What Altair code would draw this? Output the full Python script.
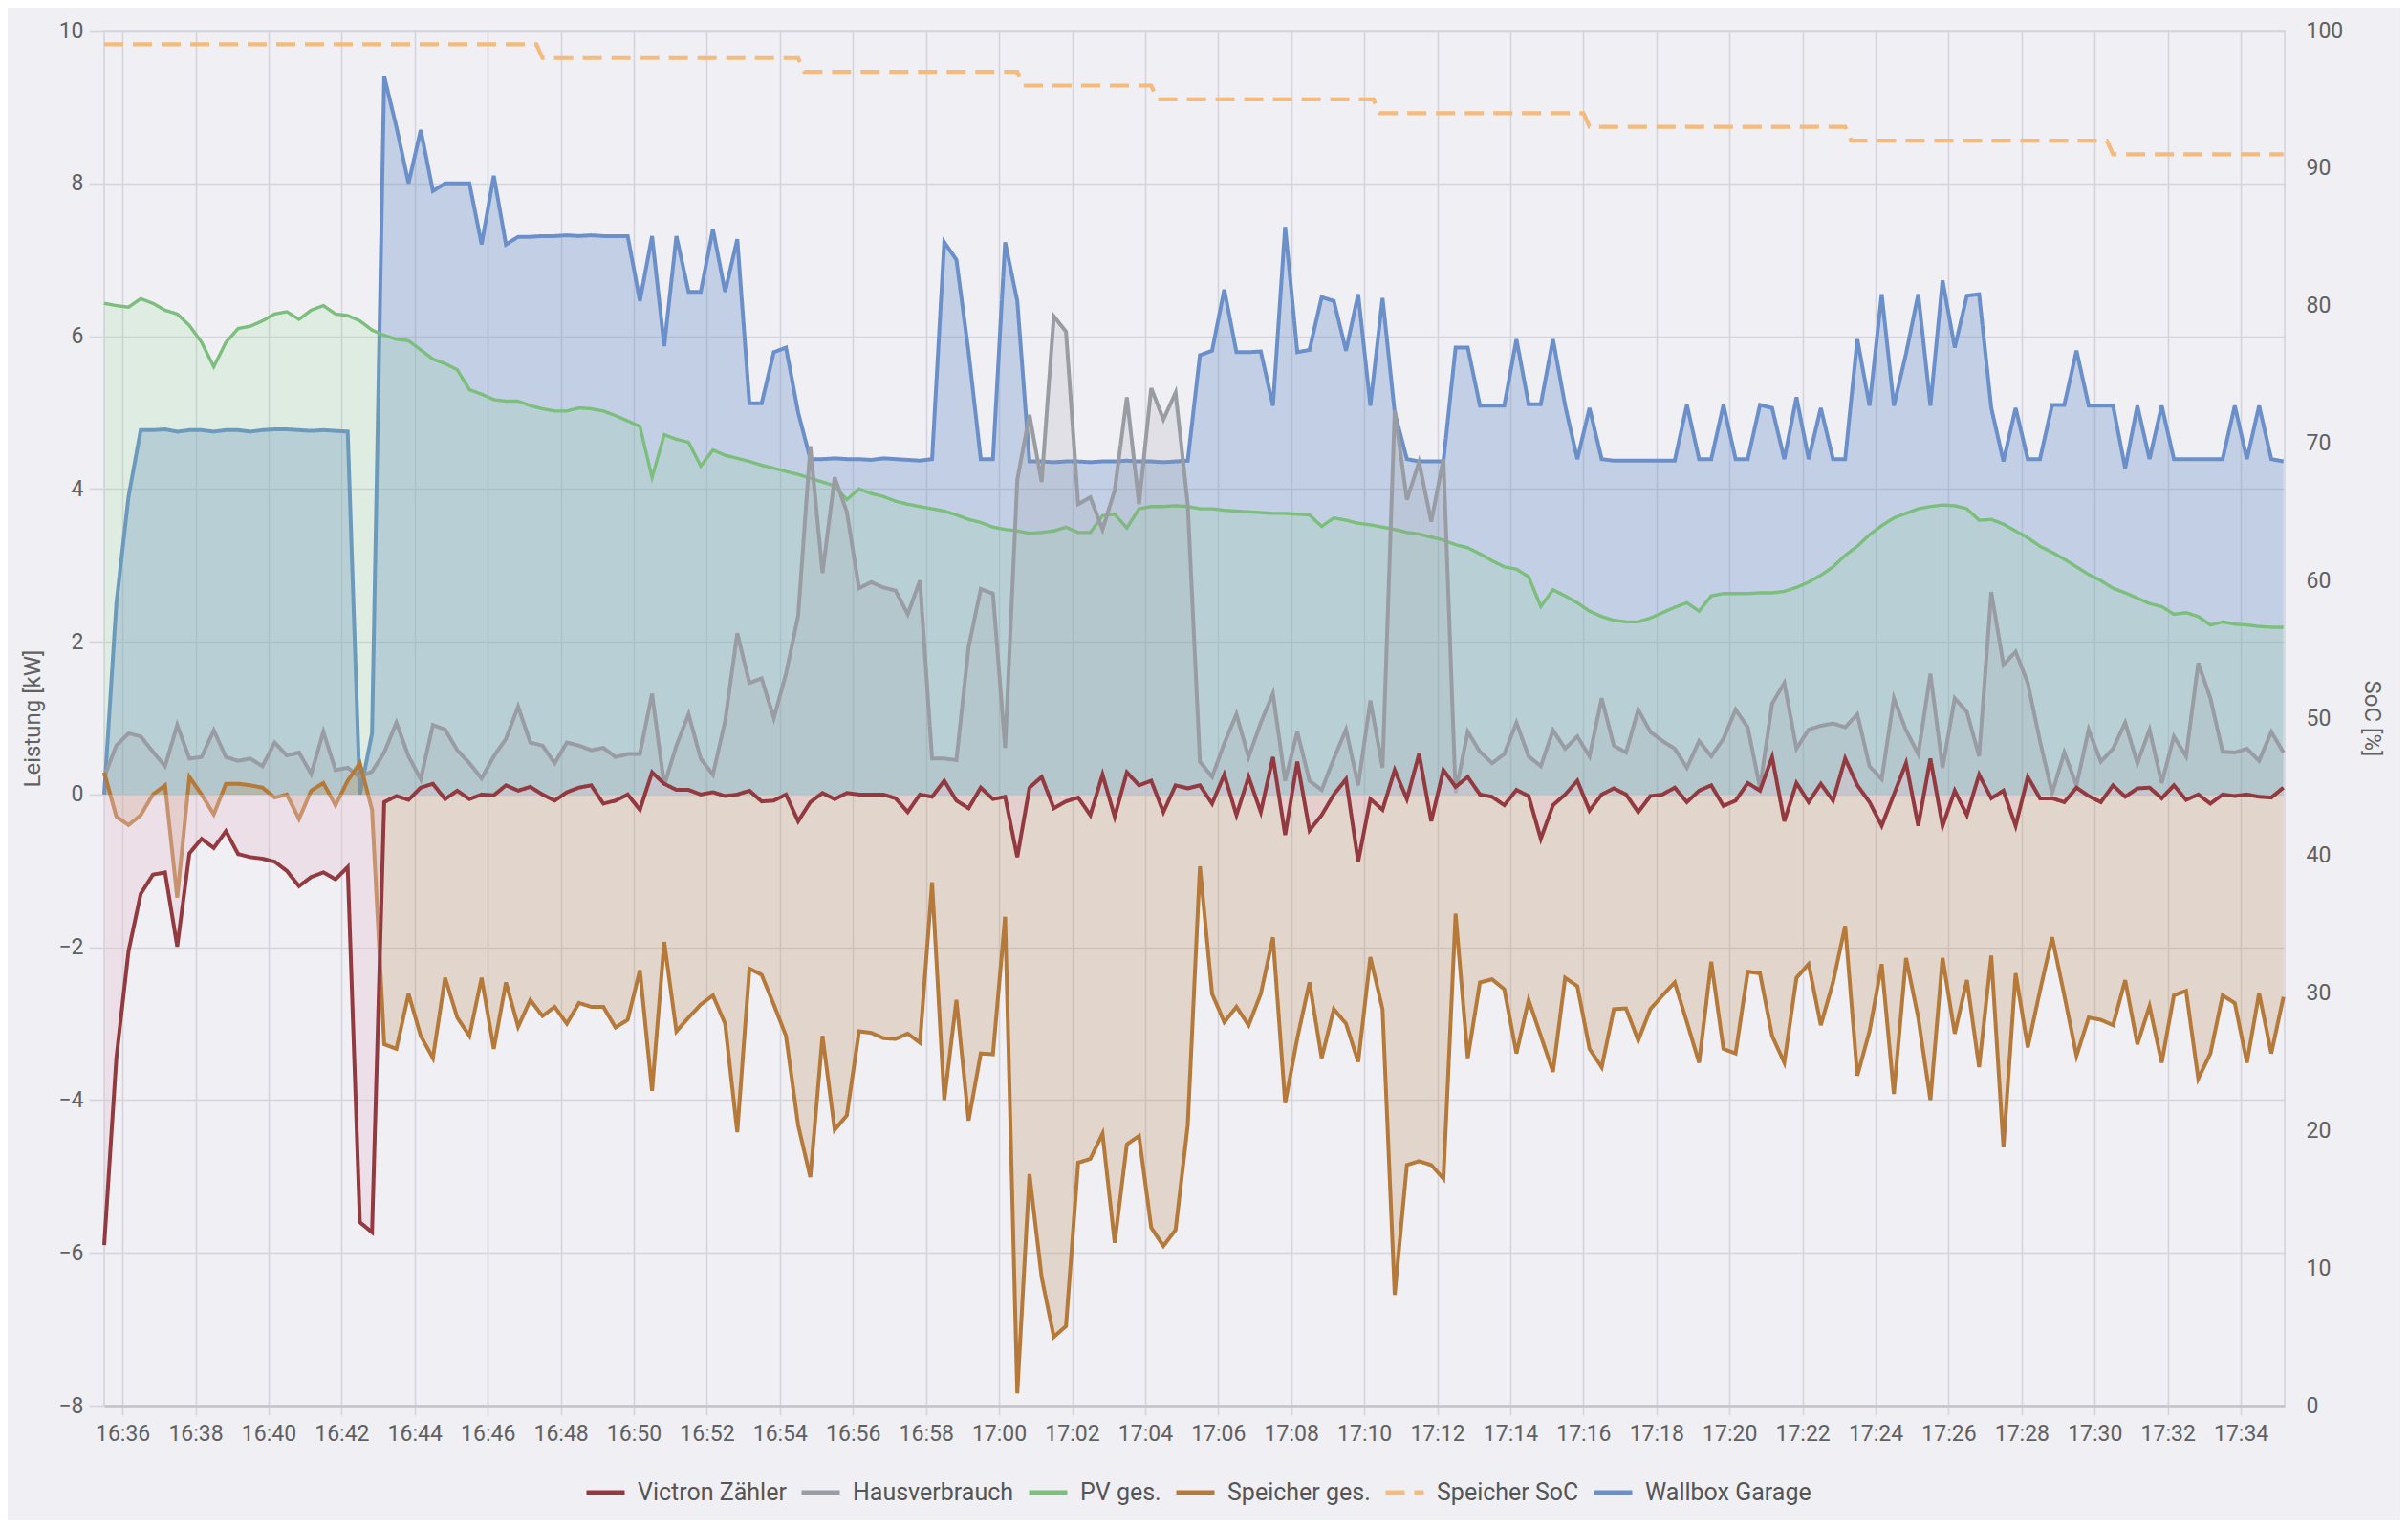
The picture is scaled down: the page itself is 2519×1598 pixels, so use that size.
import altair as alt
import pandas as pd

DAY = "2024-05-01 "
# time axis: one reading every 20 seconds from 16:35:30
times = pd.date_range(DAY + "16:35:30", periods=180, freq="20s")

victron = [
    -5.9, -3.45, -2.05, -1.3, -1.05, -1.02, -1.99, -0.77, -0.58, -0.7,
    -0.48, -0.78, -0.82, -0.84, -0.88, -1.0, -1.2, -1.08, -1.02, -1.11,
    -0.95, -5.6, -5.73, -0.1, -0.02, -0.07, 0.09, 0.14, -0.06, 0.05,
    -0.06, 0.0, -0.01, 0.12, 0.05, 0.1, 0.0, -0.08, 0.03, 0.09,
    0.12, -0.12, -0.08, 0.0, -0.2, 0.29, 0.14, 0.06, 0.06, 0.0,
    0.03, -0.02, 0.0, 0.05, -0.09, -0.08, 0.0, -0.35, -0.1, 0.02,
    -0.06, 0.02, 0.0, 0.0, 0.0, -0.05, -0.23, 0.0, -0.03, 0.18,
    -0.08, -0.18, 0.09, -0.06, -0.03, -0.82, 0.09, 0.23, -0.18, -0.09,
    -0.04, -0.27, 0.26, -0.29, 0.29, 0.12, 0.18, -0.23, 0.12, 0.08,
    0.12, -0.12, 0.26, -0.27, 0.23, -0.23, 0.49, -0.53, 0.43, -0.47,
    -0.27, 0.0, 0.2, -0.88, -0.06, -0.2, 0.32, -0.06, 0.53, -0.35,
    0.32, 0.1, 0.23, 0.0, -0.03, -0.14, 0.06, -0.02, -0.58, -0.14,
    0.0, 0.18, -0.21, 0.0, 0.08, 0.0, -0.23, -0.02, 0.0, 0.09,
    -0.1, 0.05, 0.12, -0.15, -0.08, 0.15, 0.05, 0.49, -0.35, 0.15,
    -0.1, 0.14, -0.08, 0.47, 0.12, -0.1, -0.41, 0.0, 0.41, -0.41,
    0.47, -0.41, 0.05, -0.27, 0.26, -0.05, 0.05, -0.41, 0.23, -0.05,
    -0.05, -0.1, 0.09, -0.02, -0.1, 0.12, -0.03, 0.08, 0.09, -0.05,
    0.12, -0.07, 0.0, -0.12, 0.0, -0.02, 0.0, -0.03, -0.04, 0.09,
]

haus = [
    0.23, 0.64, 0.8, 0.76, 0.56, 0.37, 0.91, 0.47, 0.49, 0.84,
    0.49, 0.44, 0.47, 0.37, 0.68, 0.51, 0.55, 0.27, 0.82, 0.32,
    0.35, 0.23, 0.3, 0.55, 0.94, 0.5, 0.2, 0.91, 0.85, 0.58,
    0.41, 0.21, 0.5, 0.73, 1.15, 0.68, 0.64, 0.41, 0.68, 0.64,
    0.58, 0.61, 0.49, 0.53, 0.53, 1.32, 0.12, 0.64, 1.05, 0.47,
    0.26, 0.96, 2.11, 1.46, 1.52, 1.0, 1.58, 2.34, 4.56, 2.9,
    4.15, 3.7, 2.7, 2.78, 2.71, 2.67, 2.36, 2.8, 0.47, 0.47,
    0.45, 1.93, 2.69, 2.63, 0.61, 4.12, 4.97, 4.09, 6.26, 6.06,
    3.8, 3.89, 3.47, 3.98, 5.2, 3.8, 5.32, 4.91, 5.26, 3.8,
    0.43, 0.23, 0.67, 1.05, 0.49, 0.94, 1.32, 0.18, 0.82, 0.18,
    0.06, 0.47, 0.85, 0.12, 1.23, 0.35, 5.03, 3.86, 4.35, 3.57,
    4.39, 0.02, 0.82, 0.56, 0.41, 0.53, 0.94, 0.5, 0.37, 0.84,
    0.6, 0.76, 0.5, 1.26, 0.64, 0.55, 1.11, 0.82, 0.7, 0.6,
    0.35, 0.7, 0.5, 0.73, 1.11, 0.88, 0.09, 1.19, 1.46, 0.6,
    0.85, 0.9, 0.93, 0.88, 1.05, 0.37, 0.2, 1.26, 0.84, 0.53,
    1.58, 0.35, 1.26, 1.08, 0.5, 2.65, 1.7, 1.87, 1.46, 0.7,
    0.02, 0.55, 0.12, 0.85, 0.43, 0.6, 0.94, 0.41, 0.85, 0.15,
    0.76, 0.5, 1.72, 1.26, 0.56, 0.55, 0.6, 0.44, 0.82, 0.55,
]

pv = [
    6.43, 6.40, 6.38, 6.49, 6.43, 6.34, 6.29, 6.14, 5.92, 5.6,
    5.92, 6.1, 6.13, 6.2, 6.29, 6.32, 6.22, 6.34, 6.4, 6.29,
    6.27, 6.2, 6.08, 6.01, 5.96, 5.94, 5.82, 5.7, 5.64, 5.56,
    5.3, 5.24, 5.17, 5.15, 5.15, 5.09, 5.05, 5.02, 5.02, 5.06,
    5.05, 5.02, 4.96, 4.89, 4.82, 4.15, 4.71, 4.65, 4.61, 4.3,
    4.51, 4.44, 4.4, 4.36, 4.31, 4.27, 4.23, 4.19, 4.14, 4.09,
    4.04, 3.86, 4.0, 3.94, 3.9, 3.84, 3.8, 3.77, 3.74, 3.71,
    3.66, 3.6, 3.56, 3.5, 3.47, 3.45, 3.42, 3.43, 3.45, 3.5,
    3.43, 3.43, 3.65, 3.67, 3.49, 3.74, 3.77, 3.77, 3.78, 3.77,
    3.74, 3.74, 3.72, 3.71, 3.7, 3.69, 3.68, 3.68, 3.67, 3.66,
    3.51, 3.62, 3.59, 3.55, 3.53, 3.5, 3.47, 3.43, 3.41, 3.37,
    3.33, 3.27, 3.23, 3.15, 3.06, 2.98, 2.95, 2.85, 2.46, 2.68,
    2.6, 2.51, 2.4, 2.33, 2.28, 2.26, 2.26, 2.31, 2.38, 2.45,
    2.51, 2.4, 2.6, 2.63, 2.63, 2.63, 2.64, 2.64, 2.66, 2.71,
    2.78, 2.87, 2.98, 3.13, 3.25, 3.4, 3.52, 3.62, 3.68, 3.74,
    3.77, 3.79, 3.78, 3.74, 3.59, 3.6, 3.54, 3.45, 3.36, 3.25,
    3.17, 3.08, 2.98, 2.88, 2.8, 2.7, 2.64, 2.57, 2.5, 2.46,
    2.36, 2.38, 2.33, 2.22, 2.26, 2.23, 2.22, 2.2, 2.19, 2.19,
]

speicher = [
    0.29, -0.29, -0.4, -0.27, 0.0, 0.12, -1.35, 0.23, 0.0, -0.26,
    0.14, 0.14, 0.12, 0.09, -0.04, 0.0, -0.32, 0.05, 0.15, -0.14,
    0.18, 0.41, -0.2, -3.27, -3.33, -2.61, -3.16, -3.45, -2.4, -2.92,
    -3.16, -2.4, -3.33, -2.46, -3.04, -2.69, -2.9, -2.78, -3.0, -2.73,
    -2.78, -2.78, -3.05, -2.95, -2.3, -3.88, -1.93, -3.1, -2.92, -2.75,
    -2.63, -3.0, -4.42, -2.28, -2.36, -2.75, -3.16, -4.33, -5.01, -3.16,
    -4.39, -4.2, -3.1, -3.12, -3.19, -3.2, -3.13, -3.25, -1.15, -4.0,
    -2.69, -4.27, -3.39, -3.4, -1.6, -7.84, -4.97, -6.32, -7.1, -6.96,
    -4.82, -4.77, -4.44, -5.87, -4.58, -4.47, -5.67, -5.91, -5.7, -4.33,
    -0.94, -2.61, -2.98, -2.78, -3.02, -2.61, -1.87, -4.04, -3.19, -2.46,
    -3.45, -2.81, -3.0, -3.5, -2.13, -2.81, -6.55, -4.85, -4.8, -4.85,
    -5.03, -1.56, -3.45, -2.46, -2.42, -2.55, -3.39, -2.69, -3.16, -3.63,
    -2.4, -2.51, -3.33, -3.57, -2.81, -2.8, -3.22, -2.81, -2.63, -2.46,
    -2.98, -3.51, -2.19, -3.33, -3.39, -2.32, -2.34, -3.16, -3.51, -2.4,
    -2.22, -3.02, -2.46, -1.72, -3.68, -3.1, -2.22, -3.92, -2.14, -2.92,
    -4.0, -2.14, -3.13, -2.43, -3.57, -2.11, -4.62, -2.34, -3.31, -2.57,
    -1.87, -2.63, -3.42, -2.92, -2.95, -3.02, -2.43, -3.27, -2.77, -3.51,
    -2.63, -2.57, -3.72, -3.39, -2.63, -2.73, -3.51, -2.6, -3.39, -2.65,
]

wallbox = [
    0.0, 2.5, 3.9, 4.77, 4.77, 4.78, 4.75, 4.77, 4.77, 4.75,
    4.77, 4.77, 4.75, 4.77, 4.78, 4.78, 4.77, 4.76, 4.77, 4.76,
    4.75, 0.0, 0.8, 9.4, 8.74, 8.0, 8.7, 7.9, 8.0, 8.0,
    8.0, 7.2, 8.1, 7.2, 7.3, 7.3, 7.31, 7.31, 7.32, 7.31,
    7.32, 7.31, 7.31, 7.31, 6.46, 7.31, 5.87, 7.31, 6.58, 6.58,
    7.4, 6.58, 7.27, 5.12, 5.12, 5.79, 5.85, 5.0, 4.39, 4.39,
    4.4, 4.39, 4.39, 4.38, 4.4, 4.39, 4.38, 4.37, 4.39, 7.23,
    7.0, 5.79, 4.39, 4.39, 7.23, 6.46, 4.36, 4.36, 4.35, 4.36,
    4.36, 4.35, 4.36, 4.36, 4.37, 4.36, 4.36, 4.35, 4.36, 4.37,
    5.75, 5.81, 6.61, 5.79, 5.79, 5.8, 5.09, 7.43, 5.79, 5.82,
    6.51, 6.46, 5.81, 6.55, 5.09, 6.5, 5.0, 4.39, 4.36, 4.36,
    4.36, 5.85, 5.85, 5.09, 5.09, 5.09, 5.96, 5.11, 5.11, 5.96,
    5.09, 4.39, 5.06, 4.39, 4.37, 4.37, 4.37, 4.37, 4.37, 4.37,
    5.1, 4.39, 4.39, 5.1, 4.39, 4.39, 5.1, 5.06, 4.39, 5.2,
    4.39, 5.06, 4.39, 4.39, 5.96, 5.09, 6.55, 5.09, 5.77, 6.55,
    5.09, 6.73, 5.85, 6.53, 6.55, 5.06, 4.36, 5.06, 4.39, 4.39,
    5.1, 5.1, 5.81, 5.09, 5.09, 5.09, 4.27, 5.09, 4.39, 5.09,
    4.39, 4.39, 4.39, 4.39, 4.39, 5.09, 4.39, 5.09, 4.39, 4.36,
]

# battery state of charge (%), corner points of the step line
soc_times = [
    "16:35:30", "16:47:20", "16:47:30", "16:54:30", "16:54:40", "17:00:30",
    "17:00:40", "17:04:10", "17:04:20", "17:10:15", "17:10:25", "17:16:00",
    "17:16:10", "17:23:10", "17:23:20", "17:30:20", "17:30:30", "17:35:10",
]
soc_values = [99, 99, 98, 98, 97, 97, 96, 96, 95, 95, 94, 94, 93, 93, 92, 92, 91, 91]

names = ["Victron Zähler", "Hausverbrauch", "PV ges.", "Speicher ges.",
         "Speicher SoC", "Wallbox Garage"]
line_colors = ["#923a40", "#9a9ca3", "#7cbe7c", "#b5793a", "#f4bb7c", "#6b90c9"]
dash_patterns = [[1, 0], [1, 0], [1, 0], [1, 0], [20, 10], [1, 0]]

# x tick labels every two minutes
tick_hm = [(16, m) for m in range(36, 60, 2)] + [(17, m) for m in range(0, 36, 2)]

FONT = "Roboto"
TXT = "#616161"
GRID = "#d4d4dc"
BG = "#efeff4"
W, H = 2281, 1438
LW = 4.0


def dt(h, m, s=0):
    return alt.DateTime(year=2024, month=5, date=1, hours=h, minutes=m, seconds=s)


x_enc = alt.X(
    "time:T",
    scale=alt.Scale(domain=[dt(16, 35, 30), dt(17, 35, 12)]),
    axis=alt.Axis(
        title=None, format="%H:%M", values=[dt(h, m) for h, m in tick_hm],
        grid=True, gridColor=GRID, gridWidth=1.6,
        domainColor="#c4c4ca", domainWidth=2.5,
        tickColor=GRID, tickSize=10, tickWidth=1.6,
        labelFontSize=23, labelColor=TXT, labelFont=FONT, labelPadding=8,
    ),
)

y_scale = alt.Scale(domain=[-8, 10], nice=False, zero=False)
y_axis = alt.Axis(
    title="Leistung [kW]", values=list(range(-8, 11, 2)),
    grid=True, gridColor=GRID, gridWidth=1.6,
    domain=False, tickColor=GRID, tickSize=16, tickWidth=1.6,
    labelFontSize=23, labelColor=TXT, labelFont=FONT, labelPadding=6,
    titleFontSize=24, titleColor=TXT, titleFont=FONT, titleFontWeight="normal",
    titleX=-75, titleY=H / 2, titleBaseline="middle",
)

color_scale = alt.Scale(domain=names, range=line_colors)
dash_scale = alt.Scale(domain=names, range=dash_patterns)
legend = alt.Legend(
    title=None, orient="none", direction="horizontal", legendX=502, legendY=1506,
    symbolType="stroke", symbolSize=1600, symbolStrokeWidth=4.5,
    labelFontSize=25, labelColor="#555555", labelFont=FONT, labelOffset=11,
    labelLimit=500, columnPadding=6, columns=6,
)


def frame(name, values):
    return pd.DataFrame({"time": times, "value": values, "zero": 0.0, "series": name})


def area(df, fill, op):
    return alt.Chart(df).mark_area(color=fill, opacity=op).encode(
        x=x_enc, y=alt.Y("value:Q", scale=y_scale, axis=y_axis), y2="zero:Q"
    )


def line(df, width=LW):
    return alt.Chart(df).mark_line(strokeWidth=width).encode(
        x=x_enc,
        y=alt.Y("value:Q", scale=y_scale, axis=y_axis),
        color=alt.Color("series:N", scale=color_scale, legend=legend),
        strokeDash=alt.StrokeDash("series:N", scale=dash_scale, legend=legend),
    )


d_wb = frame("Wallbox Garage", wallbox)
d_pv = frame("PV ges.", pv)
d_h = frame("Hausverbrauch", haus)
d_s = frame("Speicher ges.", speicher)
d_v = frame("Victron Zähler", victron)

left = alt.layer(
    area(d_wb, "#6b90c9", 0.33), line(d_wb),
    area(d_pv, "#78dc78", 0.14), line(d_pv, 3.4),
    area(d_h, "#9a9ca3", 0.17), line(d_h),
    area(d_s, "#b5793a", 0.21), line(d_s),
    area(d_v, "#e8c4d2", 0.35), line(d_v),
)

soc_df = pd.DataFrame({
    "time": pd.to_datetime([DAY + t for t in soc_times]),
    "value": soc_values,
    "series": "Speicher SoC",
})
soc = alt.Chart(soc_df).mark_line(strokeWidth=4.2).encode(
    x=x_enc,
    y=alt.Y("value:Q", scale=alt.Scale(domain=[0, 100], nice=False),
            axis=alt.Axis(
                orient="right", title="SoC [%]", values=list(range(0, 101, 10)),
                grid=False, ticks=False, domain=False, labelPadding=22,
                labelFontSize=23, labelColor=TXT, labelFont=FONT,
                titleFontSize=24, titleColor=TXT, titleFont=FONT,
                titleFontWeight="normal", titleAngle=90, titleX=90, titleY=H / 2,
                titleBaseline="middle",
            )),
    color=alt.Color("series:N", scale=color_scale, legend=legend),
    strokeDash=alt.StrokeDash("series:N", scale=dash_scale, legend=legend),
)

chart = alt.layer(left, soc).resolve_scale(y="independent").properties(
    width=W, height=H,
    autosize=alt.AutoSizeParams(type="none"),
    padding={"left": 101, "top": 24, "right": 121, "bottom": 120},
    background=BG,
).configure(font=FONT).configure_view(stroke=GRID, strokeWidth=1.6)

chart.save("out.html", embed_options={"renderer": "svg", "actions": False})
